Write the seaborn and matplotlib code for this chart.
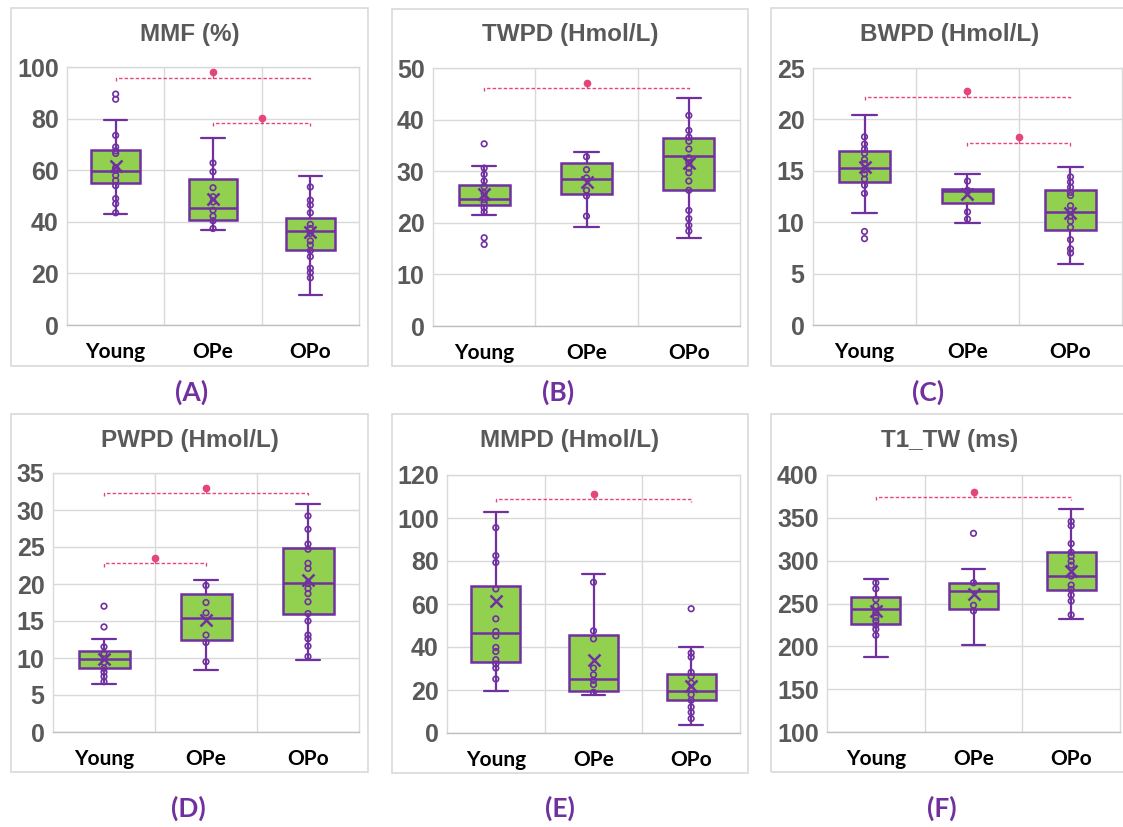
import numpy as np
import pandas as pd
import seaborn as sns
import matplotlib.pyplot as plt
from matplotlib.patches import Rectangle

groups = ['Young', 'OPe', 'OPo']

## --- datos por panel

mmf_pts = [[89.5, 87.5, 73.5, 69, 67.5, 66.5, 61, 60, 58, 56, 54, 49, 47, 43.5],
           [62.8, 59.4, 53.2, 49.7, 47.7, 44.5, 42.2, 40.4, 37.4],
           [53.5, 48.4, 46.5, 43.5, 39, 37.4, 35.5, 32.6, 31, 28.8, 26.5, 22, 20.3, 18.3]]
mmf_q1 = [55.1, 40.6, 29.0]
mmf_med = [59.7, 45.2, 36.3]
mmf_q3 = [67.7, 56.4, 41.3]
mmf_lo = [43.1, 37.0, 11.6]
mmf_hi = [79.6, 72.3, 57.7]
mmf_mean = [61.5, 48.8, 35.9]
mmf_sig = [(0, 2, 95.9, 98.0), (1, 2, 78.3, 80.4)]

twpd_pts = [[35.3, 30.6, 29.4, 28.1, 27, 25.7, 24.5, 23.9, 22.9, 22.1, 17.1, 15.8],
            [32.8, 30.3, 28.7, 26.3, 25.2, 21.3],
            [40.8, 37.9, 36.6, 35.8, 34.3, 32.6, 31.6, 30.6, 29.7, 28.1, 26.3, 22.4, 20.8, 19.5, 18.4]]
twpd_q1 = [23.4, 25.5, 26.3]
twpd_med = [24.6, 28.5, 32.9]
twpd_q3 = [27.3, 31.6, 36.5]
twpd_lo = [21.5, 19.2, 17.1]
twpd_hi = [31.0, 33.7, 44.1]
twpd_mean = [25.5, 27.9, 31.5]
twpd_sig = [(0, 2, 46.1, 47.1)]

bwpd_pts = [[18.3, 17.6, 17.1, 16.7, 16.1, 15.7, 15.1, 14.7, 14.2, 13.6, 12.8, 9.1, 8.4],
            [14.0, 13.1, 11.0, 10.3],
            [14.4, 13.9, 13.4, 12.9, 12.6, 11.6, 11.1, 10.6, 10.1, 9.5, 8.3, 7.4, 7.0]]
bwpd_q1 = [13.9, 11.9, 9.2]
bwpd_med = [15.3, 13.0, 11.0]
bwpd_q3 = [16.9, 13.2, 13.1]
bwpd_lo = [10.9, 9.9, 5.9]
bwpd_hi = [20.4, 14.7, 15.4]
bwpd_mean = [15.4, 12.7, 10.9]
bwpd_sig = [(0, 2, 22.2, 22.8), (1, 2, 17.7, 18.3)]

pwpd_pts = [[17.0, 14.2, 11.5, 10.6, 9.4, 8.6, 8.1, 7.5, 6.8],
            [19.8, 17.5, 16.1, 13.1, 12.1, 9.5],
            [29.2, 27.4, 25.4, 24.7, 22.8, 22.1, 20.1, 19.4, 18.7, 17.6, 16.0, 15.0, 13.1, 12.6, 11.6, 10.2]]
pwpd_q1 = [8.7, 12.5, 16.0]
pwpd_med = [9.9, 15.4, 20.2]
pwpd_q3 = [10.9, 18.7, 24.8]
pwpd_lo = [6.5, 8.4, 9.7]
pwpd_hi = [12.6, 20.6, 30.8]
pwpd_mean = [9.8, 15.2, 20.6]
pwpd_sig = [(0, 2, 32.3, 33.0), (0, 1, 22.8, 23.5)]

mmpd_pts = [[95.5, 82.5, 79.3, 67, 53.1, 47.2, 45.2, 39.8, 37.9, 34.1, 32.1, 30.2, 25.1],
            [70.1, 47.5, 43.8, 30.2, 27.1, 24.5, 22.5, 18.9],
            [57.8, 37.2, 35.3, 28.2, 26.3, 23.2, 20.4, 17.8, 15.2, 12.1, 9.6, 6.7]]
mmpd_q1 = [32.8, 19.7, 15.5]
mmpd_med = [46.5, 25.2, 19.7]
mmpd_q3 = [68.6, 45.7, 27.6]
mmpd_lo = [19.7, 17.8, 3.6]
mmpd_hi = [102.7, 73.9, 40.0]
mmpd_mean = [61.2, 34.1, 21.7]
mmpd_sig = [(0, 2, 108.9, 111.2)]

t1_pts = [[274.2, 267.2, 254.8, 247.1, 239.4, 233.6, 229.7, 224.7, 220, 213],
          [331.9, 274.2, 247.9, 241.3],
          [345.8, 340.8, 319.9, 309.8, 305.2, 299.4, 294.7, 282, 271.5, 266.5, 259.9, 252.9, 236.7]]
t1_q1 = [226.6, 243.2, 265.3]
t1_med = [244.0, 264.5, 282.0]
t1_q3 = [258.0, 274.2, 309.8]
t1_lo = [187.0, 201.8, 232.4]
t1_hi = [278.9, 290.5, 360.5]
t1_mean = [241.3, 261.4, 287.8]
t1_sig = [(0, 2, 374.9, 380.7)]

titles = ['MMF (%)', 'TWPD (Hmol/L)', 'BWPD (Hmol/L)', 'PWPD (Hmol/L)', 'MMPD (Hmol/L)', 'T1_TW (ms)']
letras = ['(A)', '(B)', '(C)', '(D)', '(E)', '(F)']
y_ticks = [np.arange(0, 101, 20), np.arange(0, 51, 10), np.arange(0, 26, 5),
           np.arange(0, 36, 5), np.arange(0, 121, 20), np.arange(100, 401, 50)]

paneles = [
    (mmf_pts, mmf_q1, mmf_med, mmf_q3, mmf_lo, mmf_hi, mmf_mean, mmf_sig),
    (twpd_pts, twpd_q1, twpd_med, twpd_q3, twpd_lo, twpd_hi, twpd_mean, twpd_sig),
    (bwpd_pts, bwpd_q1, bwpd_med, bwpd_q3, bwpd_lo, bwpd_hi, bwpd_mean, bwpd_sig),
    (pwpd_pts, pwpd_q1, pwpd_med, pwpd_q3, pwpd_lo, pwpd_hi, pwpd_mean, pwpd_sig),
    (mmpd_pts, mmpd_q1, mmpd_med, mmpd_q3, mmpd_lo, mmpd_hi, mmpd_mean, mmpd_sig),
    (t1_pts, t1_q1, t1_med, t1_q3, t1_lo, t1_hi, t1_mean, t1_sig),
]

## --- estilo

morado = '#7030A0'
verde = '#92D050'
rosa = '#E5457D'
gris = '#595959'

sns.set_theme(style='white')
plt.rcParams['font.family'] = ['Liberation Sans', 'DejaVu Sans']

fig = plt.figure(figsize=(11.23, 8.27), dpi=100)
W, H = 1123, 827

# posiciones en pixeles: (x0, x1, y_top, y_bottom) del area de trazado
areas = [(67, 359, 67, 325), (433, 740, 68, 326), (813, 1122, 68, 325),
         (53, 359, 473, 732), (447, 740, 475, 733), (827, 1120, 475, 732)]
marcos = [(11, 368, 8, 366), (392, 748, 9, 366), (771, 1135, 8, 366),
          (11, 368, 414, 772), (392, 748, 414, 773), (771, 1135, 414, 772)]
letra_y = [392, 392, 392, 808, 808, 808]
letra_x = [192, 558, 928, 188, 560, 942]

for k, (pts, q1, med, q3, lo, hi, media, sig) in enumerate(paneles):
    x0, x1, yt, yb = areas[k]
    ax = fig.add_axes([x0 / W, 1 - yb / H, (x1 - x0) / W, (yb - yt) / H])

    # marco del grafico (estilo Excel)
    mx0, mx1, myt, myb = marcos[k]
    fig.add_artist(Rectangle((mx0 / W, 1 - myb / H), (mx1 - mx0) / W, (myb - myt) / H,
                             transform=fig.transFigure, fill=False, edgecolor='#D9D9D9', lw=1.2))
    centro = (mx0 + 1128) / 2 if k % 3 == 2 else (mx0 + mx1) / 2
    fig.text(centro / W, 1 - (myt + 26) / H, titles[k], ha='center', va='center',
             fontsize=17.5, fontweight='bold', color=gris)
    fig.text(letra_x[k] / W, 1 - letra_y[k] / H, letras[k],
             ha='center', va='center', fontsize=19, fontweight='bold', color=morado, family='Lato')

    # cajas
    stats = [dict(q1=q1[i], med=med[i], q3=q3[i], whislo=lo[i], whishi=hi[i],
                  mean=media[i], fliers=[]) for i in range(3)]
    ax.bxp(stats, positions=[0, 1, 2], widths=0.5, capwidths=0.24, patch_artist=True,
           showmeans=True, showfliers=False,
           boxprops=dict(facecolor=verde, edgecolor=morado, lw=1.8),
           medianprops=dict(color=morado, lw=1.8),
           whiskerprops=dict(color=morado, lw=1.6),
           capprops=dict(color=morado, lw=1.6),
           meanprops=dict(marker='x', markeredgecolor=morado, markersize=8, markeredgewidth=1.8),
           zorder=2)

    # puntos individuales
    df = pd.DataFrame({'grupo': [g for g, p in zip(groups, pts) for _ in p],
                       'valor': [v for p in pts for v in p]})
    n0 = len(ax.collections)
    sns.stripplot(data=df, x='grupo', y='valor', order=groups, jitter=False, ax=ax,
                  color=morado, size=4, linewidth=1.2, edgecolor=morado, zorder=4)
    for c in ax.collections[n0:]:
        c.set_facecolor('none')
        c.set_edgecolor(morado)

    # significancia
    rango = y_ticks[k][-1] - y_ticks[k][0]
    d = 0.013 * rango
    for i, j, yb_, ys in sig:
        ax.plot([i, i, j, j], [yb_ - d, yb_, yb_, yb_ - d], ls=(0, (2.5, 1.5)), color=rosa, lw=1, zorder=3)
        ax.plot([(i + j) / 2, (i + j) / 2], [yb_, ys], color=rosa, lw=1, zorder=3)
        ax.plot((i + j) / 2, ys, marker='o', ms=4.5, color=rosa, zorder=3)

    ax.set_xlim(-0.5, 2.5)
    ax.set_ylim(y_ticks[k][0], y_ticks[k][-1])
    ax.set_yticks(y_ticks[k])
    ax.set_xticks([0, 1, 2])
    ax.set_xticks([0.5, 1.5], minor=True)
    ax.set_xticklabels(groups, fontsize=15, fontweight='bold', color='black', family='Lato')
    ax.set_yticklabels([str(t) for t in y_ticks[k]])
    for lab in ax.get_yticklabels():
        lab.set_fontsize(18)
        lab.set_fontweight('bold')
        lab.set_color(gris)
    ax.set_xlabel('')
    ax.set_ylabel('')
    ax.grid(axis='y', color='#D9D9D9', lw=1)
    ax.grid(axis='x', which='minor', color='#D9D9D9', lw=1)
    ax.grid(axis='x', which='major', visible=False)
    ax.set_axisbelow(True)
    for s in ax.spines.values():
        s.set_color('#D9D9D9')
        s.set_linewidth(1)
    ax.spines['bottom'].set_color('#BFBFBF')
    ax.tick_params(axis='both', which='both', length=0)
    ax.tick_params(axis='x', pad=12)
    ax.tick_params(axis='y', pad=6)

fig.savefig('out.png', dpi=100, facecolor='white')
